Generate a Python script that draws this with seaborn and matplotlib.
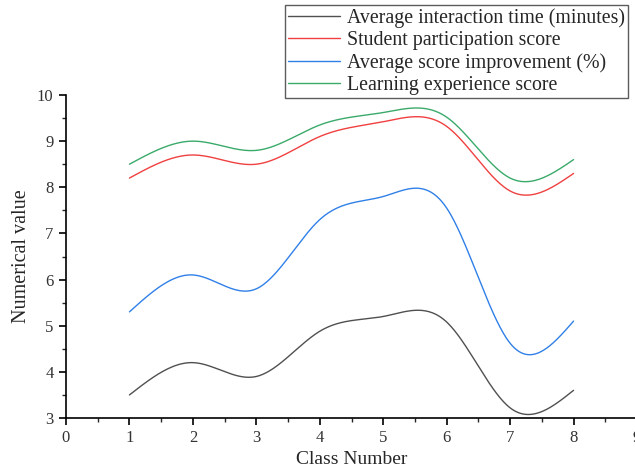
import numpy as np
import pandas as pd
import matplotlib
matplotlib.use("Agg")
import matplotlib.pyplot as plt
import seaborn as sns
from matplotlib.ticker import MultipleLocator

classes = [1, 2, 3, 4, 5, 6, 7, 8]
interaction_time = [3.5, 4.2, 3.9, 4.88, 5.2, 5.08, 3.22, 3.6]
participation = [8.2, 8.7, 8.5, 9.1, 9.42, 9.32, 7.92, 8.3]
score_improvement = [5.3, 6.1, 5.8, 7.3, 7.8, 7.55, 4.62, 5.1]
experience = [8.5, 9.0, 8.8, 9.35, 9.62, 9.52, 8.2, 8.6]

series_names = ["Average interaction time (minutes)", "Student participation score",
                "Average score improvement (%)", "Learning experience score"]
colors = ["#505050", "#f04040", "#3080e8", "#3aaa6a"]


def natural_spline(x, y, n=400):
    x = np.asarray(x, float)
    y = np.asarray(y, float)
    k = len(x)
    h = np.diff(x)
    A = np.zeros((k, k))
    b = np.zeros(k)
    A[0, 0] = 1
    A[-1, -1] = 1
    for i in range(1, k - 1):
        A[i, i - 1] = h[i - 1]
        A[i, i] = 2 * (h[i - 1] + h[i])
        A[i, i + 1] = h[i]
        b[i] = 3 * ((y[i + 1] - y[i]) / h[i] - (y[i] - y[i - 1]) / h[i - 1])
    c = np.linalg.solve(A, b)
    xs = np.linspace(x[0], x[-1], n)
    ys = np.empty_like(xs)
    for j, xv in enumerate(xs):
        i = min(np.searchsorted(x, xv, side="right") - 1, k - 2)
        dx = xv - x[i]
        bi = (y[i + 1] - y[i]) / h[i] - h[i] * (2 * c[i] + c[i + 1]) / 3
        di = (c[i + 1] - c[i]) / (3 * h[i])
        ys[j] = y[i] + bi * dx + c[i] * dx ** 2 + di * dx ** 3
    return xs, ys


sns.set_style("white")
plt.rcParams["font.family"] = ["Liberation Serif", "DejaVu Serif"]

fig = plt.figure(figsize=(6.35, 4.72), dpi=100)
ax = fig.add_axes([66 / 635, 1 - 418 / 472, 571 / 635, 323 / 472])

frames = []
for name, vals in zip(series_names, [interaction_time, participation, score_improvement, experience]):
    xs, ys = natural_spline(classes, vals)
    frames.append(pd.DataFrame({"x": xs, "y": ys, "series": name}))
df = pd.concat(frames, ignore_index=True)

sns.lineplot(data=df, x="x", y="y", hue="series", palette=colors,
             hue_order=series_names, linewidth=1.0, ax=ax, sort=False)

ax.set_xlim(0, 9)
ax.set_ylim(3, 10)
ax.xaxis.set_major_locator(MultipleLocator(1))
ax.xaxis.set_minor_locator(MultipleLocator(0.5))
ax.yaxis.set_major_locator(MultipleLocator(1))
ax.yaxis.set_minor_locator(MultipleLocator(0.5))
ax.tick_params(which="major", direction="out", length=5, width=1.2, labelsize=12,
               bottom=True, left=True, colors="black", labelcolor="#333333", pad=4)
ax.tick_params(which="minor", direction="out", length=3, width=1, bottom=True, left=True)
for s in ["top", "right"]:
    ax.spines[s].set_visible(False)
for s in ["left", "bottom"]:
    ax.spines[s].set_color("black")
    ax.spines[s].set_linewidth(1.2)

ax.set_xlabel("Class Number", fontsize=14, labelpad=3)
ax.set_ylabel("Numerical value", fontsize=14.5, labelpad=4)

leg = ax.legend(loc="upper right", bbox_to_anchor=(628 / 635, 1 - 5 / 472),
                bbox_transform=fig.transFigure, fontsize=14.3, frameon=True,
                fancybox=False, edgecolor="#333333", borderaxespad=0,
                labelspacing=0.16, handlelength=2.6, handletextpad=0.35,
                borderpad=0.15)
leg.get_frame().set_linewidth(1.0)
for line in leg.get_lines():
    line.set_linewidth(1.0)

fig.savefig("out.png", dpi=100)
